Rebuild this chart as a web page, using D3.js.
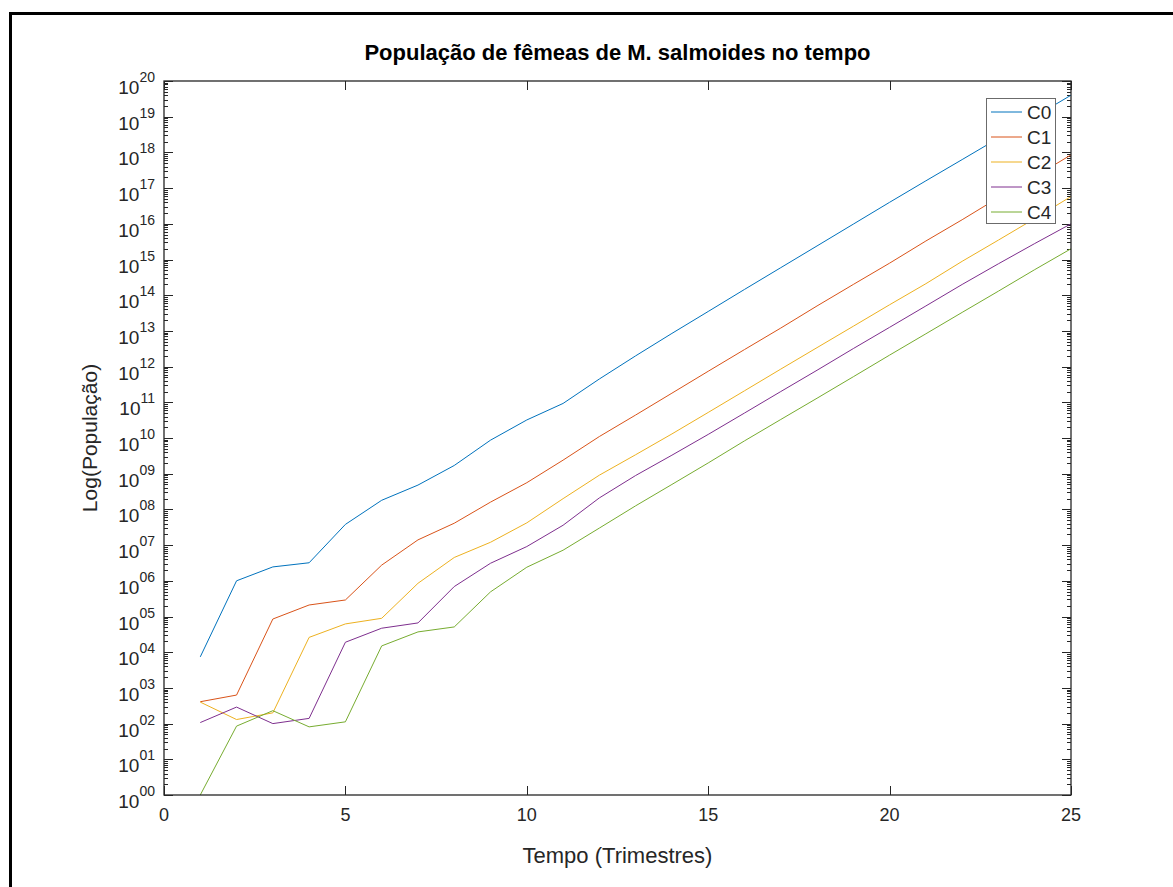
<!DOCTYPE html>
<html>
<head>
<meta charset="utf-8">
<script src="https://cdn.jsdelivr.net/npm/d3@7"></script>
<style>
  body { margin: 0; background: #fff; }
  svg { display: block; font-family: "Liberation Sans", Arial, sans-serif; }
</style>
</head>
<body>
<div id="main"></div>
<script>
// quarters on x axis
const tempo = d3.range(1, 26);

// female population per class
const c0 = [7.4e3, 1.0e6, 2.45e6, 3.2e6, 3.8e7, 1.8e8, 4.8e8, 1.7e9, 8.7e9, 3.2e10, 9.3e10, 4.5e11, 2.0e12,
  8.5e12, 3.5e13, 1.45e14, 5.9e14, 2.4e15, 9.8e15, 4.0e16, 1.6e17, 6.3e17, 2.5e18, 1.0e19, 4.0e19];
const c1 = [4.1e2, 6.3e2, 8.5e4, 2.1e5, 2.9e5, 2.75e6, 1.4e7, 4.1e7, 1.6e8, 5.6e8, 2.4e9, 1.1e10, 4.4e10,
  1.8e11, 7.4e11, 3.0e12, 1.2e13, 5.0e13, 2.0e14, 7.9e14, 3.3e15, 1.3e16, 5.4e16, 2.1e17, 8.5e17];
const c2 = [4.0e2, 1.3e2, 2.0e2, 2.6e4, 6.2e4, 8.9e4, 8.5e5, 4.5e6, 1.2e7, 4.2e7, 2.0e8, 9.1e8, 3.4e9,
  1.3e10, 5.2e10, 2.1e11, 8.5e11, 3.4e12, 1.35e13, 5.4e13, 2.1e14, 8.9e14, 3.5e15, 1.4e16, 5.8e16];
const c3 = [1.07e2, 2.9e2, 1.0e2, 1.4e2, 1.9e4, 4.7e4, 6.6e4, 6.9e5, 3.1e6, 9.1e6, 3.6e7, 2.1e8, 8.9e8,
  3.3e9, 1.26e10, 5.0e10, 2.0e11, 7.9e11, 3.2e12, 1.26e13, 5.0e13, 2.0e14, 7.6e14, 2.8e15, 1.0e16];
const c4 = [1, 85, 2.3e2, 81, 1.12e2, 1.5e4, 3.7e4, 5.1e4, 4.9e5, 2.4e6, 7.2e6, 3.0e7, 1.26e8, 5.0e8,
  2.0e9, 8.3e9, 3.3e10, 1.3e11, 5.2e11, 2.1e12, 8.3e12, 3.3e13, 1.3e14, 5.2e14, 2.0e15];

const seriesNames = ['C0', 'C1', 'C2', 'C3', 'C4'];
const seriesValues = [c0, c1, c2, c3, c4];
const colors = ['#0072BD', '#D95319', '#EDB120', '#7E2F8E', '#77AC30'];

const xTicks = [0, 5, 10, 15, 20, 25];
const yExponents = d3.range(0, 21);

const width = 1173, height = 887;
const margin = { top: 81, right: 102, bottom: 92, left: 164 };
const axisColor = '#262626';

const svg = d3.select('#main').append('svg')
  .attr('width', width)
  .attr('height', height);

// outer frame (top + left edge only visible)
svg.append('line').attr('x1', 9).attr('x2', width).attr('y1', 13.5).attr('y2', 13.5)
  .attr('stroke', '#000').attr('stroke-width', 3);
svg.append('line').attr('x1', 10.5).attr('x2', 10.5).attr('y1', 12).attr('y2', height)
  .attr('stroke', '#000').attr('stroke-width', 3);

const x = d3.scaleLinear().domain([0, 25]).range([margin.left, width - margin.right]);
const y = d3.scaleLog().domain([1, 1e20]).range([height - margin.bottom, margin.top]);

const plotL = x.range()[0], plotR = x.range()[1];
const plotT = y.range()[1], plotB = y.range()[0];

// minor log ticks
const minor = [];
yExponents.slice(0, -1).forEach(e => {
  for (let k = 2; k <= 9; k++) minor.push(k * Math.pow(10, e));
});

const ticksG = svg.append('g').attr('stroke', axisColor).attr('stroke-width', 1);
minor.forEach(v => {
  const yy = Math.round(y(v)) + 0.5;
  ticksG.append('line').attr('x1', plotL).attr('x2', plotL + 4).attr('y1', yy).attr('y2', yy);
  ticksG.append('line').attr('x1', plotR).attr('x2', plotR - 4).attr('y1', yy).attr('y2', yy);
});
yExponents.forEach(e => {
  const yy = Math.round(y(Math.pow(10, e))) + 0.5;
  ticksG.append('line').attr('x1', plotL).attr('x2', plotL + 9).attr('y1', yy).attr('y2', yy);
  ticksG.append('line').attr('x1', plotR).attr('x2', plotR - 9).attr('y1', yy).attr('y2', yy);
});
xTicks.forEach(t => {
  const xx = Math.round(x(t)) + 0.5;
  ticksG.append('line').attr('x1', xx).attr('x2', xx).attr('y1', plotB).attr('y2', plotB - 9);
  ticksG.append('line').attr('x1', xx).attr('x2', xx).attr('y1', plotT).attr('y2', plotT + 9);
});

// series lines
const line = d3.line()
  .x((d, i) => x(tempo[i]))
  .y(d => y(d));

const linesG = svg.append('g');
seriesValues.forEach((vals, i) => {
  linesG.append('path')
    .datum(vals)
    .attr('d', line)
    .attr('fill', 'none')
    .attr('stroke', colors[i])
    .attr('stroke-width', 1);
});

// axes box
svg.append('rect')
  .attr('x', plotL).attr('y', plotT)
  .attr('width', plotR - plotL).attr('height', plotB - plotT)
  .attr('fill', 'none').attr('stroke', axisColor).attr('stroke-width', 1.3);

// x tick labels
svg.append('g').selectAll('text')
  .data(xTicks)
  .enter().append('text')
  .attr('x', d => x(d))
  .attr('y', plotB + 26)
  .attr('text-anchor', 'middle')
  .attr('font-size', 18)
  .attr('fill', axisColor)
  .text(d => d);

// y tick labels 10^NN
const yl = svg.append('g').selectAll('text')
  .data(yExponents)
  .enter().append('text')
  .attr('x', plotL - 9)
  .attr('y', d => y(Math.pow(10, d)) + 13)
  .attr('text-anchor', 'end')
  .attr('fill', axisColor);
yl.append('tspan').attr('font-size', 19).text('10');
yl.append('tspan').attr('font-size', 14).attr('dy', -12)
  .text(d => d3.format('02d')(d));

// title and axis labels
svg.append('text')
  .attr('x', (plotL + plotR) / 2)
  .attr('y', 60)
  .attr('text-anchor', 'middle')
  .attr('font-size', 22)
  .attr('font-weight', 'bold')
  .attr('fill', '#000')
  .text('População de fêmeas de M. salmoides no tempo');

svg.append('text')
  .attr('x', (plotL + plotR) / 2)
  .attr('y', 863)
  .attr('text-anchor', 'middle')
  .attr('font-size', 22)
  .attr('fill', axisColor)
  .text('Tempo (Trimestres)');

svg.append('text')
  .attr('transform', `translate(97, ${(plotT + plotB) / 2}) rotate(-90)`)
  .attr('text-anchor', 'middle')
  .attr('font-size', 21)
  .attr('fill', axisColor)
  .text('Log(População)');

// legend
const legend = svg.append('g').attr('transform', 'translate(986, 98)');
legend.append('rect')
  .attr('x', 0.5).attr('y', 0.5)
  .attr('width', 69).attr('height', 125)
  .attr('fill', '#fff').attr('stroke', '#6b6b6b').attr('stroke-width', 1);
seriesNames.forEach((name, i) => {
  const cy = 14 + i * 25;
  legend.append('line')
    .attr('x1', 5).attr('x2', 36).attr('y1', cy).attr('y2', cy)
    .attr('stroke', colors[i]).attr('stroke-width', 1);
  legend.append('text')
    .attr('x', 41).attr('y', cy + 7)
    .attr('font-size', 19)
    .attr('fill', axisColor)
    .text(name);
});
</script>
</body>
</html>
